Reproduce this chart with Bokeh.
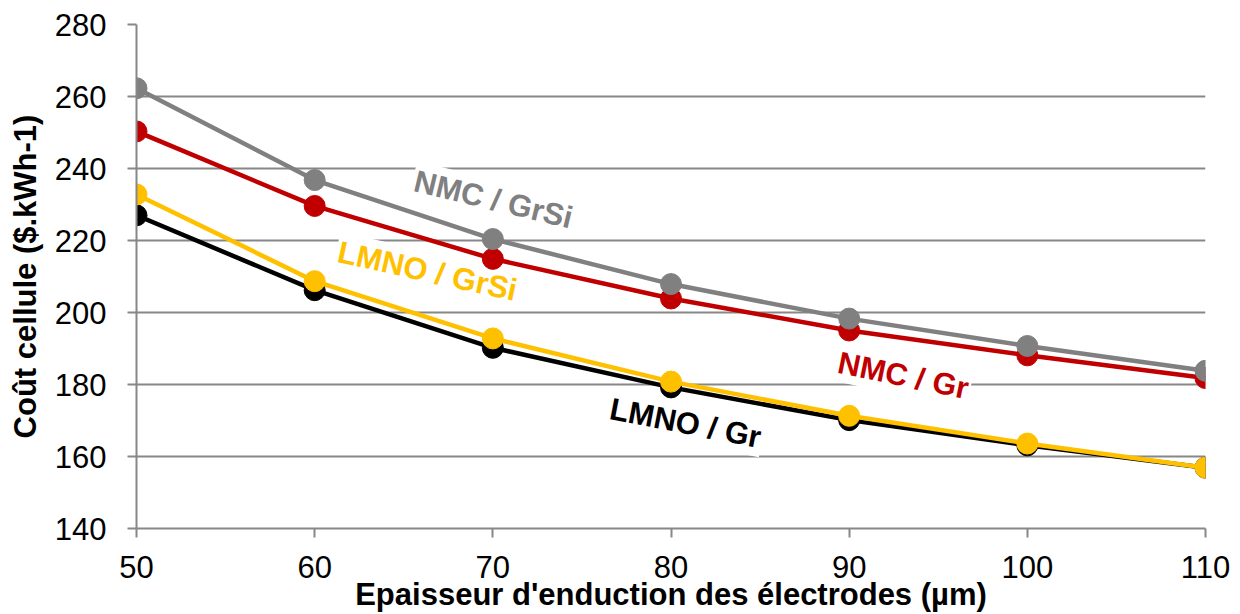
from bokeh.plotting import figure
from bokeh.models import Range1d, Label, ColumnDataSource
from bokeh.embed import file_html
from bokeh.resources import INLINE

# ---- data ----
thickness = [50, 60, 70, 80, 90, 100, 110]
nmc_grsi = [262.3, 236.8, 220.4, 207.9, 198.3, 190.7, 183.8]
nmc_gr = [250.3, 229.6, 214.9, 203.9, 195.0, 188.1, 181.8]
lmno_grsi = [232.8, 208.7, 192.8, 180.8, 171.3, 163.6, 156.9]
lmno_gr = [227.0, 206.2, 190.2, 179.2, 170.1, 163.1, 156.9]
x_ticks = [50, 60, 70, 80, 90, 100, 110]
y_ticks = [140, 160, 180, 200, 220, 240, 260, 280]

series = [
    ("LMNO / Gr", lmno_gr, "#000000"),
    ("LMNO / GrSi", lmno_grsi, "#FFC000"),
    ("NMC / Gr", nmc_gr, "#C00000"),
    ("NMC / GrSi", nmc_grsi, "#808080"),
]

FONT = "Liberation Sans"
GRID = "#878787"

p = figure(width=1232, height=614, output_backend="svg", toolbar_location=None,
           x_range=Range1d(50, 110), y_range=Range1d(140, 280),
           min_border_left=136, min_border_right=27, min_border_top=24, min_border_bottom=83)
p.outline_line_color = None
p.background_fill_color = "white"
p.border_fill_color = "white"

p.xgrid.visible = False
p.ygrid.grid_line_color = GRID
p.ygrid.grid_line_width = 2
p.xaxis.ticker = x_ticks
p.yaxis.ticker = y_ticks

for ax in (p.xaxis[0], p.yaxis[0]):
    ax.axis_line_color = GRID
    ax.axis_line_width = 2
    ax.major_tick_line_color = GRID
    ax.major_tick_line_width = 2
    ax.major_tick_out = 9
    ax.major_tick_in = 0
    ax.minor_tick_line_color = None
    ax.major_label_text_font = FONT
    ax.major_label_text_font_size = "31px"
    ax.major_label_text_color = "black"
    ax.axis_label_text_font = FONT
    ax.axis_label_text_font_size = "31px"
    ax.axis_label_text_font_style = "bold"
    ax.axis_label_text_color = "black"

p.xaxis.axis_label = "Epaisseur d'enduction des électrodes (µm)"
p.yaxis.axis_label = "Coût cellule ($.kWh-1)"
p.xaxis.major_label_standoff = 18
p.xaxis.axis_label_standoff = -4
p.yaxis.major_label_standoff = 21
p.yaxis.axis_label_standoff = 9

# ---- annotations (labels with white fill, under the lines) ----
labels = [
    ("NMC / GrSi", 70.03, 231.4, -13.5, "#808080"),
    ("LMNO / GrSi", 66.33, 211.5, -12.4, "#FFC000"),
    ("NMC / Gr", 93.04, 182.5, -11.6, "#C00000"),
    ("LMNO / Gr", 80.81, 169.3, -11.0, "#000000"),
]
for txt, lx, ly, ang, col in labels:
    lab = Label(x=lx, y=ly, text=txt, angle=ang, angle_units="deg",
                text_align="center", text_baseline="middle",
                text_font=FONT, text_font_size="31px", text_font_style="bold",
                text_color=col, background_fill_color="white", padding=2,
                level="underlay")
    p.add_layout(lab)

for name, vals, col in series:
    src = ColumnDataSource(dict(x=thickness, y=vals))
    p.line("x", "y", source=src, line_color=col, line_width=4.5)
    p.scatter("x", "y", source=src, marker="circle", size=21,
              fill_color=col, line_color=col)

open("out.html", "w").write(file_html(p, INLINE))
